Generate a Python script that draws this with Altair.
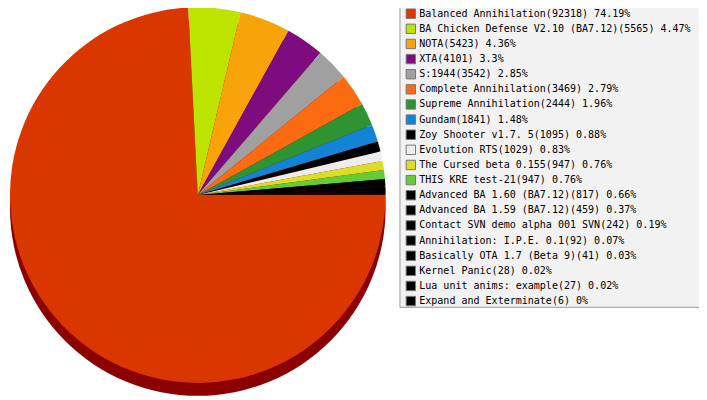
import math
import altair as alt
import pandas as pd

names = [
    "Balanced Annihilation", "BA Chicken Defense V2.10 (BA7.12)", "NOTA", "XTA",
    "S:1944", "Complete Annihilation", "Supreme Annihilation", "Gundam",
    "Zoy Shooter v1.7. 5", "Evolution RTS", "The Cursed beta 0.155", "THIS KRE test-21",
    "Advanced BA 1.60 (BA7.12)", "Advanced BA 1.59 (BA7.12)",
    "Contact SVN demo alpha 001 SVN", "Annihilation: I.P.E. 0.1",
    "Basically OTA 1.7 (Beta 9)", "Kernel Panic", "Lua unit anims: example",
    "Expand and Exterminate",
]
counts = [92318, 5565, 5423, 4101, 3542, 3469, 2444, 1841, 1095, 1029,
          947, 947, 817, 459, 242, 92, 41, 28, 27, 6]
percents = [74.19, 4.47, 4.36, 3.3, 2.85, 2.79, 1.96, 1.48, 0.88, 0.83,
            0.76, 0.76, 0.66, 0.37, 0.19, 0.07, 0.03, 0.02, 0.02, 0]
colors = ["#d93600", "#bde400", "#f9a30b", "#7f0c7f", "#a0a0a0", "#fc6a12",
          "#2e9432", "#1184d6", "#000000", "#ececec", "#dedc28", "#66cc33",
          "#000000", "#000000", "#000000", "#000000", "#000000", "#000000",
          "#000000", "#000000"]

labels = [f"{n}({c}) {p:g}%" for n, c, p in zip(names, counts, percents)]
df = pd.DataFrame({"label": labels, "count": counts, "idx": list(range(len(labels)))})

CX, CY, R, DY = 192, 187, 190, 13

# legend panel background
panel = alt.Chart(pd.DataFrame({"v": [1]})).mark_rect(
    fill="#f2f2f2", stroke="#999999", strokeWidth=1
).encode(x=alt.value(396.5), x2=alt.value(710), y=alt.value(-10), y2=alt.value(300.5))

shadow = alt.Chart(pd.DataFrame({"v": [1]})).mark_arc(
    radius=R, theta=0, theta2=2 * math.pi, color="#8b0000"
).encode(x=alt.value(CX), y=alt.value(CY + DY))

pie = alt.Chart(df).mark_arc(radius=R, strokeWidth=0).encode(
    x=alt.value(CX),
    y=alt.value(CY),
    theta=alt.Theta("count:Q", stack=True,
                    scale=alt.Scale(range=[math.pi / 2, math.pi / 2 + 2 * math.pi])),
    order=alt.Order("idx:Q"),
    color=alt.Color(
        "label:N",
        sort=labels,
        scale=alt.Scale(domain=labels, range=colors),
        legend=alt.Legend(
            title=None,
            orient="none",
            legendX=397,
            legendY=-7,
            direction="vertical",
            columns=1,
            symbolType="square",
            symbolSize=90,
            symbolStrokeColor="#777777",
            symbolStrokeWidth=1,
            labelFont="DejaVu Sans Mono",
            labelFontSize=10.15,
            labelColor="#000000",
            labelLimit=400,
            labelOffset=3,
            rowPadding=0.3,
            padding=5,
        ),
    ),
)

chart = alt.layer(panel, shadow, pie).properties(
    width=699, height=392, padding=0, background="white",
    autosize=alt.AutoSizeParams(type="none")
).configure_view(stroke=None)

chart.save("out.html", embed_options={"renderer": "svg", "actions": False})
